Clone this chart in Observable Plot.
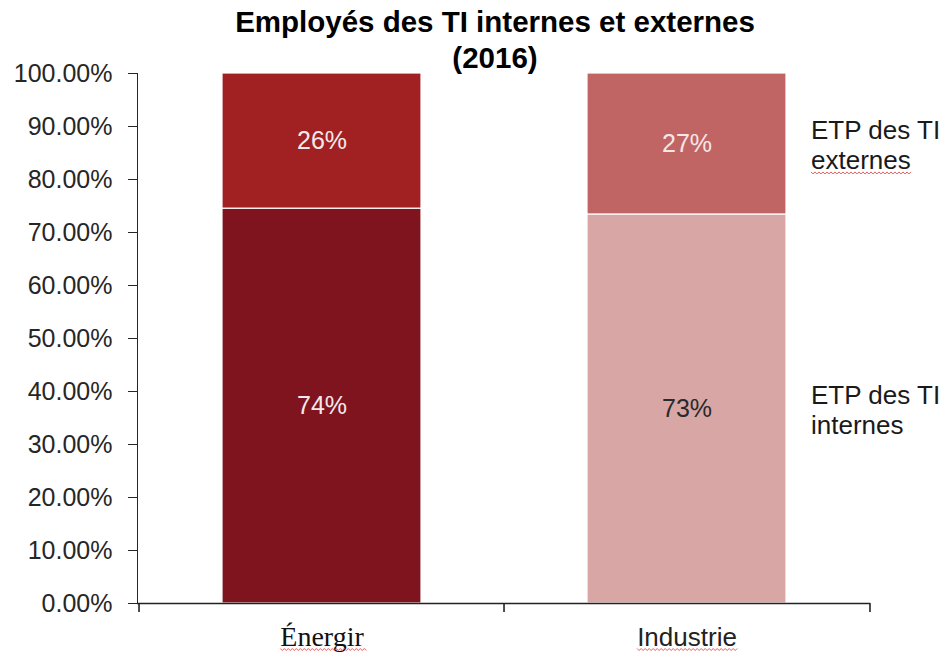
<!DOCTYPE html>
<html>
<head>
<meta charset="utf-8">
<script src="https://cdn.jsdelivr.net/npm/d3@7"></script>
<script src="https://cdn.jsdelivr.net/npm/@observablehq/plot@0.6"></script>
<style>
  html, body { margin: 0; padding: 0; background: #fff; }
  #wrap { position: relative; width: 946px; height: 660px; }
  #title {
    position: absolute; top: 4px; left: 0; width: 990px; text-align: center;
    font-family: "Liberation Sans", Arial, sans-serif; font-weight: bold;
    font-size: 29.5px; line-height: 36px; color: #000; pointer-events: none;
  }
</style>
</head>
<body>
<div id="wrap">
  <div id="chart"></div>
  <div id="title">Employés des TI internes et externes<br>(2016)</div>
</div>
<script>
// ---- data ----
const categories = ["Énergir", "Industrie"];
const seriesNames = ["ETP des TI\ninternes", "ETP des TI\nexternes"];
const internes = [74.5, 73.4];
const externes = [25.5, 26.6];
const labelsInternes = ["74%", "73%"];
const labelsExternes = ["26%", "27%"];
const yTicks = [0, 10, 20, 30, 40, 50, 60, 70, 80, 90, 100];

// ---- styles ----
const barColors = {"Énergir": ["#7f141e", "#a12022"], "Industrie": ["#d9a6a6", "#c06563"]};
const labelColors = {"Énergir": ["#f4e8ec", "#f4e8ec"], "Industrie": ["#2a2a2a", "#f6e6e8"]};

const rows = [];
categories.forEach((c, i) => {
  rows.push({cat: c, s: 0, value: internes[i], label: labelsInternes[i], serie: seriesNames[0]});
  rows.push({cat: c, s: 1, value: externes[i], label: labelsExternes[i], serie: seriesNames[1]});
});

const W = 946, H = 660;
const mL = 137, mR = 76, mT = 73, mB = 57;
const padInner = 0.456, padOuter = 0.2295;
const step = (W - mL - mR) / (categories.length - padInner + 2 * padOuter);

const plot = Plot.plot({
  width: W, height: H,
  marginLeft: mL, marginRight: mR, marginTop: mT, marginBottom: mB,
  style: {fontFamily: "'Liberation Sans', Arial, sans-serif", fontSize: "25px", color: "#262626", background: "#fff"},
  x: {domain: categories, paddingInner: padInner, paddingOuter: padOuter, axis: null},
  y: {domain: [0, 100], ticks: yTicks, tickFormat: d => d.toFixed(2) + "%", tickSize: 9, tickPadding: 16, label: null, line: true},
  marks: [
    Plot.barY(rows, {x: "cat", y: "value", fill: d => barColors[d.cat][d.s], stroke: "#fff", strokeWidth: 1.2}),
    Plot.text(rows, Plot.stackY({x: "cat", y: "value", text: "label", fill: d => labelColors[d.cat][d.s], fontSize: 25})),
    Plot.text(rows.filter(d => d.cat === categories[1]), Plot.stackY({x: "cat", y: "value", text: "serie", textAnchor: "start", dx: 124, fontSize: 26, lineHeight: 1.17, fill: "#1a1a1a"})),
    Plot.ruleY([0], {stroke: "#222", strokeWidth: 1.6}),
    Plot.ruleX(categories, {x: d => d, y1: 0, y2: 0, insetBottom: -9, dx: -step / 2, stroke: "#222", strokeWidth: 1.6}),
    Plot.ruleX([categories[categories.length - 1]], {x: d => d, y1: 0, y2: 0, insetBottom: -9, dx: step / 2, stroke: "#222", strokeWidth: 1.6}),
    Plot.text([categories[0]], {x: d => d, text: d => d, frameAnchor: "bottom", dy: 42, fontSize: 28, fontFamily: "'Liberation Serif', 'Times New Roman', serif", fill: "#111"}),
    Plot.text([categories[1]], {x: d => d, text: d => d, frameAnchor: "bottom", dy: 42, fontSize: 26, fill: "#222"})
  ]
});
document.getElementById("chart").appendChild(plot);

// spell-check style red squiggles seen in the reference (decoration only)
const svgRect = plot.getBoundingClientRect();
function squiggle(el) {
  const r = el.getBoundingClientRect();
  const x0 = r.left - svgRect.left, x1 = r.right - svgRect.left;
  const y0 = r.bottom - svgRect.top - 3;
  let d = `M${x0},${y0}`;
  for (let x = x0, k = 0; x < x1; x += 2, k++) d += `L${x + 2},${y0 + (k % 2 ? 0 : 2)}`;
  d3.select(plot).append("path").attr("d", d).attr("fill", "none").attr("stroke", "#e85a5a").attr("stroke-width", 1);
}
const targets = [];
d3.select(plot).selectAll("text").each(function() {
  const t = this.textContent;
  if (t === "Énergir" || t === "Industrie") targets.push(this);
});
d3.select(plot).selectAll("tspan").each(function() {
  if (this.textContent === "externes") targets.push(this);
});
targets.forEach(squiggle);
</script>
</body>
</html>
